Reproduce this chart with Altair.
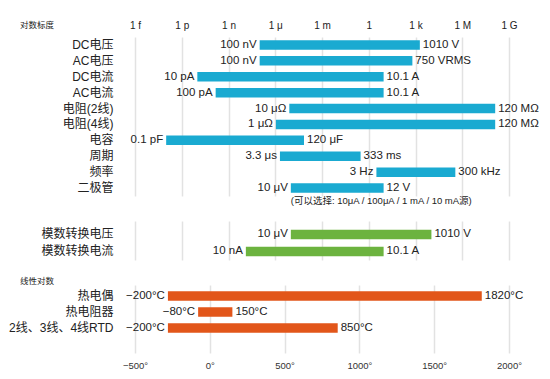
import altair as alt
import pandas as pd

FONT = "Liberation Sans, Noto Sans CJK SC, sans-serif"
BLUE = "#1aaad1"
GREEN = "#6cb33f"
ORANGE = "#e2561a"
GRID = "#e2e2e2"
TXT = "#222222"

# ---- log-scale section ----
top_cats = ["DC电压", "AC电压", "DC电流", "AC电流", "电阻(2线)", "电阻(4线)", "电容", "周期", "频率", "二极管"]
top_lo = [1e-7, 1e-7, 1e-11, 1.5e-10, 8e-6, 1.1e-6, 1e-13, 2e-6, 3.1, 1e-5]
top_hi = [1900, 630, 9, 9, 1.3e8, 1.3e8, 7e-5, 0.3, 3.6e5, 9]
top_lo_txt = ["100 nV", "100 nV", "10 pA", "100 pA", "10 μΩ", "1 μΩ", "0.1 pF", "3.3 μs", "3 Hz", "10 μV"]
top_hi_txt = ["1010 V", "750 VRMS", "10.1 A", "10.1 A", "120 MΩ", "120 MΩ", "120 μF", "333 ms", "300 kHz", "12 V"]
note_row = ["二极管"]
note_x = [1e-5]
note_txt = ["(可以选择: 10μA / 100μA / 1 mA / 10 mA源)"]

adc_cats = ["模数转换电压", "模数转换电流"]
adc_lo = [1e-5, 1.3e-8]
adc_hi = [1.05e4, 9]
adc_lo_txt = ["10 μV", "10 nA"]
adc_hi_txt = ["1010 V", "10.1 A"]

# ---- linear section ----
temp_cats = ["热电偶", "热电阻器", "2线、3线、4线RTD"]
temp_lo = [-280, -78, -280]
temp_hi = [1818, 151, 855]
temp_lo_txt = ["−200°C", "−80°C", "−200°C"]
temp_hi_txt = ["1820°C", "150°C", "850°C"]

log_ticks = [1e-15, 1e-12, 1e-9, 1e-6, 1e-3, 1, 1e3, 1e6, 1e9]
log_tick_labels = ["1 f", "1 p", "1 n", "1 μ", "1 m", "1", "1 k", "1 M", "1 G"]
lin_ticks = [-500, 0, 500, 1000, 1500, 2000]

W = 374
VAL_FS = 11.5


def frame(cats, lo, hi, lt, ht):
    return pd.DataFrame({"cat": cats, "lo": lo, "hi": hi, "lt": lt, "ht": ht})


def panel(df, cats, xscale, xaxis, color, height, yscale, title=None, note=None):
    yenc = alt.Y("cat:N", sort=cats, scale=yscale,
                 axis=alt.Axis(title=None, domain=False, ticks=False, labelPadding=22,
                               labelFontSize=12, labelFont=FONT, labelColor=TXT,
                               labelLimit=250))
    base = alt.Chart(df)
    bars = base.mark_bar(height=9.5, color=color).encode(
        x=alt.X("lo:Q", scale=xscale, axis=xaxis), x2="hi:Q", y=yenc)
    left = base.mark_text(align="right", baseline="middle", dx=-3, fontSize=VAL_FS,
                          font=FONT, color=TXT).encode(
        x=alt.X("lo:Q", scale=xscale), y=alt.Y("cat:N", sort=cats), text="lt:N")
    right = base.mark_text(align="left", baseline="middle", dx=3, fontSize=VAL_FS,
                           font=FONT, color=TXT).encode(
        x=alt.X("hi:Q", scale=xscale), y=alt.Y("cat:N", sort=cats), text="ht:N")
    layers = [bars, left, right]
    if note is not None:
        layers.append(alt.Chart(note).mark_text(align="left", baseline="middle", dy=13,
                                                fontSize=9.5, font=FONT, color=TXT).encode(
            x=alt.X("x:Q", scale=xscale), y=alt.Y("cat:N", sort=cats), text="t:N"))
    if title is not None:
        layers.append(alt.Chart(pd.DataFrame({"t": [title[0]]})).mark_text(
            align="left", baseline="middle", fontSize=8.5, font=FONT, color=TXT).encode(
            x=alt.value(-115), y=alt.value(title[1]), text="t:N"))
    return alt.layer(*layers).properties(width=W, height=height)


log_scale = alt.Scale(type="log", domain=[1e-15, 1e9], nice=False)
label_map = "[" + ",".join("'%s'" % s for s in log_tick_labels) + "]"
top_axis = alt.Axis(orient="top", values=log_ticks, grid=True, gridColor=GRID, gridWidth=1.5,
                    domain=False, ticks=False, labelPadding=7, labelFontSize=10,
                    labelFlush=False, labelOverlap=False,
                    labelFont=FONT, labelColor=TXT, title=None,
                    labelExpr=label_map + "[round((log(datum.value)/LN10+15)/3)]")
mid_axis = alt.Axis(orient="top", values=log_ticks, grid=True, gridColor=GRID, gridWidth=1.5,
                    domain=False, ticks=False, labels=False, title=None)
lin_scale = alt.Scale(domain=[-500, 2000], nice=False)
bot_axis = alt.Axis(orient="bottom", values=lin_ticks, grid=True, gridColor=GRID, gridWidth=1.5,
                    domain=False, ticks=False, labelPadding=7, labelFontSize=9.5,
                    labelFlush=False, labelOverlap=False,
                    labelFont=FONT, labelColor="#333333", title=None,
                    labelExpr="replace(format(datum.value,'d'),'-','−') + '°'")

note_df = pd.DataFrame({"cat": note_row, "x": note_x, "t": note_txt})

top = panel(frame(top_cats, top_lo, top_hi, top_lo_txt, top_hi_txt), top_cats,
            log_scale, top_axis, BLUE, 159,
            alt.Scale(paddingInner=0, paddingOuter=0),
            title=("对数标度", -12), note=note_df)
mid = panel(frame(adc_cats, adc_lo, adc_hi, adc_lo_txt, adc_hi_txt), adc_cats,
            log_scale, mid_axis, GREEN, 39,
            alt.Scale(paddingInner=0, paddingOuter=0.147, align=1))
bot = panel(frame(temp_cats, temp_lo, temp_hi, temp_lo_txt, temp_hi_txt), temp_cats,
            lin_scale, bot_axis, ORANGE, 68,
            alt.Scale(paddingInner=0, paddingOuter=0.63, align=0.15),
            title=("线性对数", -4))

chart = alt.vconcat(top, mid, bot, spacing=25, bounds="flush").configure_view(
    strokeWidth=0).properties(padding={"left": 0, "top": 12, "right": 0, "bottom": 0})

chart.save("out.html", embed_options={"renderer": "svg", "actions": False})
